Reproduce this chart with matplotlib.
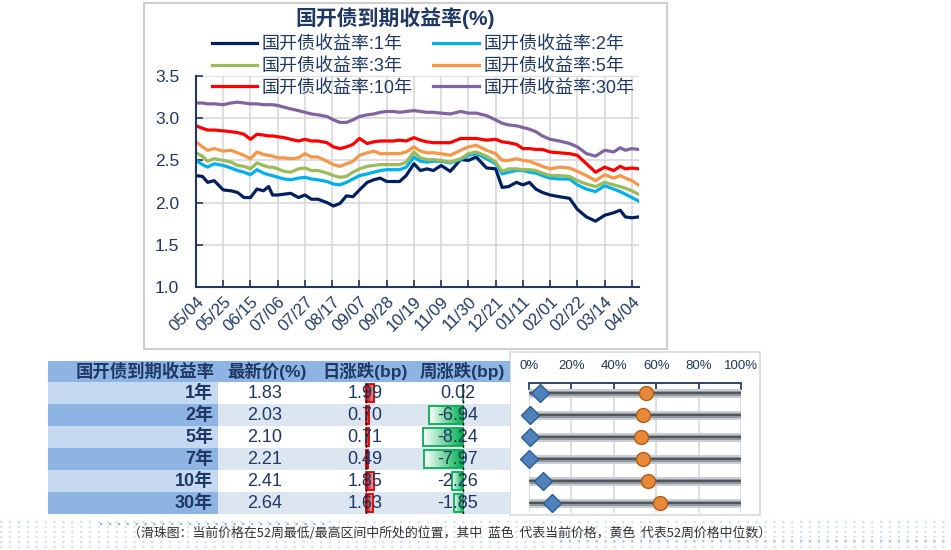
import numpy as np
import pandas as pd
import matplotlib
matplotlib.use("Agg")
import matplotlib.pyplot as plt
import matplotlib.dates as mdates
from matplotlib.colors import LinearSegmentedColormap
from matplotlib.patches import Rectangle

plt.rcParams['font.family'] = ['Liberation Sans', 'Noto Sans CJK SC', 'DejaVu Sans']
plt.rcParams['axes.unicode_minus'] = False

# ---------------------------------------------------------------
# Data
# ---------------------------------------------------------------
dates = pd.to_datetime([
    '2023-05-04', '2023-05-09', '2023-05-13', '2023-05-18', '2023-05-25', '2023-05-31',
    '2023-06-05', '2023-06-10', '2023-06-15', '2023-06-20', '2023-06-25', '2023-06-29',
    '2023-07-02', '2023-07-06', '2023-07-11', '2023-07-16', '2023-07-22', '2023-07-27',
    '2023-08-01', '2023-08-06', '2023-08-13', '2023-08-18', '2023-08-23', '2023-08-28',
    '2023-09-02', '2023-09-07', '2023-09-13', '2023-09-18', '2023-09-23', '2023-09-28',
    '2023-10-03', '2023-10-08', '2023-10-13', '2023-10-19', '2023-10-24', '2023-10-29',
    '2023-11-03', '2023-11-09', '2023-11-16', '2023-11-24', '2023-11-30', '2023-12-06',
    '2023-12-14', '2023-12-21', '2023-12-26', '2023-12-31', '2024-01-06', '2024-01-11',
    '2024-01-16', '2024-01-21', '2024-01-26', '2024-02-01', '2024-02-08', '2024-02-16',
    '2024-02-22', '2024-02-29', '2024-03-07', '2024-03-14', '2024-03-21', '2024-03-26',
    '2024-03-30', '2024-04-04', '2024-04-09'])

y1 = [2.32, 2.31, 2.24, 2.26, 2.15, 2.14, 2.12, 2.06, 2.06, 2.16,
      2.14, 2.19, 2.09, 2.09, 2.10, 2.11, 2.06, 2.09, 2.04, 2.04,
      2.00, 1.96, 1.99, 2.08, 2.07, 2.15, 2.24, 2.27, 2.29, 2.25,
      2.25, 2.25, 2.32, 2.46, 2.38, 2.40, 2.38, 2.44, 2.37, 2.51,
      2.50, 2.54, 2.41, 2.40, 2.18, 2.19, 2.24, 2.21, 2.24, 2.16,
      2.12, 2.09, 2.07, 2.05, 1.92, 1.83, 1.78, 1.85, 1.88, 1.91,
      1.83, 1.82, 1.83]
y2 = [2.50, 2.45, 2.42, 2.46, 2.44, 2.41, 2.38, 2.36, 2.33, 2.39,
      2.35, 2.33, 2.32, 2.30, 2.28, 2.27, 2.29, 2.30, 2.28, 2.27,
      2.25, 2.22, 2.21, 2.24, 2.28, 2.32, 2.34, 2.36, 2.38, 2.39,
      2.39, 2.39, 2.42, 2.54, 2.49, 2.48, 2.49, 2.49, 2.47, 2.51,
      2.56, 2.58, 2.52, 2.46, 2.34, 2.36, 2.38, 2.38, 2.36, 2.35,
      2.32, 2.29, 2.28, 2.28, 2.21, 2.16, 2.13, 2.20, 2.16, 2.13,
      2.10, 2.06, 2.02]
y3 = [2.59, 2.55, 2.49, 2.52, 2.50, 2.48, 2.44, 2.43, 2.40, 2.47,
      2.44, 2.42, 2.42, 2.40, 2.37, 2.36, 2.40, 2.41, 2.38, 2.38,
      2.35, 2.32, 2.30, 2.31, 2.36, 2.40, 2.43, 2.44, 2.45, 2.45,
      2.45, 2.45, 2.48, 2.60, 2.53, 2.51, 2.51, 2.50, 2.48, 2.52,
      2.58, 2.60, 2.55, 2.48, 2.37, 2.40, 2.40, 2.39, 2.39, 2.38,
      2.35, 2.32, 2.32, 2.31, 2.26, 2.22, 2.19, 2.24, 2.21, 2.19,
      2.17, 2.14, 2.10]
y5 = [2.72, 2.66, 2.62, 2.64, 2.61, 2.62, 2.59, 2.56, 2.52, 2.60,
      2.57, 2.56, 2.55, 2.53, 2.53, 2.52, 2.53, 2.58, 2.54, 2.54,
      2.49, 2.45, 2.43, 2.46, 2.49, 2.56, 2.59, 2.61, 2.58, 2.58,
      2.58, 2.58, 2.60, 2.66, 2.61, 2.59, 2.59, 2.58, 2.56, 2.62,
      2.66, 2.68, 2.62, 2.58, 2.50, 2.50, 2.52, 2.50, 2.49, 2.46,
      2.43, 2.40, 2.42, 2.41, 2.37, 2.32, 2.26, 2.33, 2.29, 2.32,
      2.29, 2.26, 2.21]
y10 = [2.91, 2.88, 2.86, 2.86, 2.85, 2.84, 2.83, 2.81, 2.75, 2.81,
       2.80, 2.79, 2.79, 2.78, 2.77, 2.75, 2.73, 2.75, 2.73, 2.73,
       2.71, 2.66, 2.64, 2.66, 2.69, 2.76, 2.70, 2.72, 2.73, 2.73,
       2.73, 2.74, 2.73, 2.77, 2.74, 2.72, 2.71, 2.71, 2.71, 2.76,
       2.76, 2.76, 2.74, 2.75, 2.72, 2.71, 2.69, 2.64, 2.64, 2.63,
       2.63, 2.60, 2.59, 2.58, 2.56, 2.46, 2.36, 2.42, 2.38, 2.43,
       2.40, 2.41, 2.40]
y30 = [3.18, 3.18, 3.17, 3.17, 3.16, 3.18, 3.19, 3.18, 3.17, 3.17,
       3.16, 3.16, 3.16, 3.15, 3.13, 3.11, 3.09, 3.07, 3.05, 3.04,
       3.02, 2.98, 2.95, 2.95, 2.98, 3.02, 3.04, 3.05, 3.07, 3.08,
       3.08, 3.07, 3.08, 3.09, 3.08, 3.07, 3.07, 3.06, 3.05, 3.08,
       3.06, 3.06, 3.03, 2.98, 2.94, 2.92, 2.91, 2.89, 2.87, 2.84,
       2.79, 2.75, 2.73, 2.70, 2.66, 2.58, 2.55, 2.62, 2.60, 2.65,
       2.62, 2.64, 2.63]

series_labels = ['国开债收益率:1年', '国开债收益率:2年', '国开债收益率:3年',
                 '国开债收益率:5年', '国开债收益率:10年', '国开债收益率:30年']
series_colors = ['#002060', '#00B0F0', '#9BBB59', '#F79646', '#FF0000', '#8064A2']

tenors = ['1年', '2年', '5年', '7年', '10年', '30年']
latest = [1.83, 2.03, 2.10, 2.21, 2.41, 2.64]
day_chg = [1.99, 0.70, 0.71, 0.49, 1.85, 1.63]
week_chg = [0.02, -6.94, -8.24, -7.97, -2.26, -1.85]
pos_current = [0.05, 0.005, 0.005, 0.0, 0.065, 0.11]
pos_median = [0.55, 0.54, 0.53, 0.54, 0.56, 0.62]

footnote = '（滑珠图：当前价格在52周最低/最高区间中所处的位置，其中  蓝色  代表当前价格，黄色  代表52周价格中位数）'

NAVY = '#1F3864'
GRID = '#D9D9D9'
W, H = 951, 550

fig = plt.figure(figsize=(W / 100, H / 100), dpi=100)

# background canvas in pixel coordinates
bg = fig.add_axes([0, 0, 1, 1], zorder=0)
bg.set_xlim(0, W)
bg.set_ylim(H, 0)
bg.axis('off')

# decorative dotted band at the bottom
for yy in range(522, 550, 5):
    bg.plot([0, W], [yy, yy], color='#D5E3F0', lw=1.6, ls=(0, (1, 3)))
bg.plot([100, 330], [524, 524], color='#8DB9DA', lw=1.6, ls=(0, (1, 3)))
bg.plot([560, 951], [541, 541], color='#A9CBE3', lw=1.6, ls=(0, (1, 3)))

# panels
bg.add_patch(Rectangle((144, 3), 523, 346, fill=False, ec='#CFCFCF', lw=1.5))
bg.add_patch(Rectangle((510, 352), 250, 163, fill=False, ec='#D9D9D9', lw=1.2))

# ---------------------------------------------------------------
# Line chart
# ---------------------------------------------------------------
ax = fig.add_axes([196 / W, 1 - 287 / H, (639 - 196) / W, (287 - 76) / H], zorder=2)
ax.patch.set_alpha(0)
all_series = [y1, y2, y3, y5, y10, y30]
lines = []
for vals, lab, col in zip(all_series, series_labels, series_colors):
    ln, = ax.plot(dates, vals, color=col, lw=2.3, label=lab, solid_joinstyle='round')
    lines.append(ln)

tick_dates = pd.date_range('2023-05-04', '2024-04-04', freq='21D')
ax.set_xticks(tick_dates)
ax.xaxis.set_major_formatter(mdates.DateFormatter('%m/%d'))
ax.set_xlim(pd.Timestamp('2023-05-04'), pd.Timestamp('2024-04-09 12:00'))
ax.set_ylim(1.0, 3.5)
ax.set_yticks(np.arange(1.0, 3.51, 0.5))
ax.yaxis.set_major_formatter(matplotlib.ticker.FormatStrFormatter('%.1f'))
ax.grid(True, color=GRID, lw=1.2)
ax.set_axisbelow(True)
for s in ['top', 'right']:
    ax.spines[s].set_visible(False)
for s in ['left', 'bottom']:
    ax.spines[s].set_color(NAVY)
    ax.spines[s].set_linewidth(1.5)
ax.tick_params(axis='both', direction='in', length=5, width=1.2, color=NAVY, labelcolor=NAVY)
ax.tick_params(axis='y', pad=12, labelsize=12.5)
ax.tick_params(axis='x', pad=5, labelsize=12)
for lbl in ax.get_xticklabels():
    lbl.set_rotation(45)
    lbl.set_ha('right')
    lbl.set_va('top')
    lbl.set_rotation_mode('anchor')

order = [0, 2, 4, 1, 3, 5]
ax.legend([lines[i] for i in order], [series_labels[i] for i in order], ncol=2,
          loc='upper left', bbox_to_anchor=(212 / W, 1 - 36 / H), bbox_transform=fig.transFigure,
          frameon=False, borderpad=0, borderaxespad=0, handlelength=2.5, handletextpad=0.25,
          columnspacing=1.15, labelspacing=0.27, fontsize=13, labelcolor=NAVY)

fig.text(395 / W, 1 - 18 / H, '国开债到期收益率(%)', ha='center', va='center',
         fontsize=15, fontweight='bold', color=NAVY)

# ---------------------------------------------------------------
# Table
# ---------------------------------------------------------------
col_edges = [48, 218, 316, 414, 510]
head_top, head_bot = 361, 382
row_h = 22
bg.add_patch(Rectangle((col_edges[0], head_top), col_edges[-1] - col_edges[0],
                       head_bot - head_top, fc='#8DB4E2', ec='none'))
for i in range(len(tenors)):
    y0 = head_bot + i * row_h
    bg.add_patch(Rectangle((col_edges[0], y0), col_edges[1] - col_edges[0], row_h,
                           fc='#C5D9F1' if i % 2 == 0 else '#8DB4E2', ec='none'))
    bg.add_patch(Rectangle((col_edges[1], y0), col_edges[-1] - col_edges[1], row_h,
                           fc='white' if i % 2 == 0 else '#DCE6F1', ec='none'))

hy = (head_top + head_bot) / 2
bg.text(215, hy, '国开债到期收益率', ha='right', va='center', fontsize=12.5,
        fontweight='bold', color=NAVY)
bg.text(267, hy, '最新价(%)', ha='center', va='center', fontsize=12.5, fontweight='bold', color=NAVY)
bg.text(365, hy, '日涨跌(bp)', ha='center', va='center', fontsize=12.5, fontweight='bold', color=NAVY)
bg.text(462, hy, '周涨跌(bp)', ha='center', va='center', fontsize=12.5, fontweight='bold', color=NAVY)

# data bars
red_cmap = LinearSegmentedColormap.from_list('r', ['#C00000', '#F4B4B4'])
green_cmap = LinearSegmentedColormap.from_list('g', ['#00B050', '#FFFFFF'])


def data_bars(px_left, px_right, px_zero, px_per_bp, values, cmap, edge):
    bax = fig.add_axes([px_left / W, 1 - (head_bot + 6 * row_h) / H,
                        (px_right - px_left) / W, 6 * row_h / H], zorder=1)
    bax.axis('off')
    grad = np.linspace(0, 1, 64).reshape(1, -1)
    hh = 0.4
    for i, v in enumerate(values):
        if v >= 0:
            bax.imshow(grad, extent=[0, v, i + hh, i - hh], cmap=cmap, aspect='auto')
        else:
            bax.imshow(grad[:, ::-1], extent=[v, 0, i + hh, i - hh], cmap=cmap, aspect='auto')
        bax.add_patch(Rectangle((min(0, v), i - hh), abs(v), 2 * hh, fill=False, ec=edge, lw=1.3))
    bax.axvline(0, color='black', lw=1, ls=(0, (2, 2)))
    bax.set_xlim(-(px_zero - px_left) / px_per_bp, (px_right - px_zero) / px_per_bp)
    bax.set_ylim(5.5, -0.5)
    return bax


data_bars(316, 414, 366, 4.2, day_chg, red_cmap, '#E00000')
data_bars(414, 510, 463, 4.85, week_chg, green_cmap, '#00B050')

for i, t in enumerate(tenors):
    yc = head_bot + i * row_h + row_h / 2
    fig.text(213 / W, 1 - yc / H, t, ha='right', va='center', fontsize=13,
             fontweight='bold', color=NAVY, zorder=5)
    fig.text(265 / W, 1 - yc / H, f'{latest[i]:.2f}', ha='center', va='center',
             fontsize=13, color=NAVY, zorder=5)
    fig.text(365 / W, 1 - yc / H, f'{day_chg[i]:.2f}', ha='center', va='center',
             fontsize=13, color=NAVY, zorder=5)
    fig.text(458 / W, 1 - yc / H, f'{week_chg[i]:.2f}', ha='center', va='center',
             fontsize=13, color=NAVY, zorder=5)

# ---------------------------------------------------------------
# Bead chart
# ---------------------------------------------------------------
bead = fig.add_axes([529 / W, 1 - 513 / H, 212 / W, 130 / H], zorder=2)
bead.patch.set_alpha(0)
rows = np.arange(len(tenors))
bead.set_xlim(0, 1)
bead.set_ylim(5.45, -0.455)
bead.xaxis.tick_top()
bead.set_xticks(np.linspace(0, 1, 6))
bead.set_xticklabels(['0%', '20%', '40%', '60%', '80%', '100%'])
bead.set_yticks([])
bead.tick_params(axis='x', direction='in', length=5, width=1.2, color=NAVY,
                 labelcolor=NAVY, labelsize=9.5, pad=8)
bead.grid(True, axis='x', color=GRID, lw=1.2)
bead.set_axisbelow(True)
for s in ['bottom', 'left', 'right']:
    bead.spines[s].set_visible(False)
bead.spines['top'].set_color(NAVY)
bead.spines['top'].set_linewidth(1.3)

bead.hlines(rows, 0, 1, color='#C9CED4', lw=6.5, zorder=2)
bead.hlines(rows, 0, 1, color='#90969C', lw=3.6, zorder=2)
bead.hlines(rows, 0, 1, color='#50555A', lw=1.4, zorder=2)
bead.plot(pos_current, rows, 'D', ms=9, mfc='#4F81BD', mec='#2C5C94', mew=1, clip_on=False, zorder=4)
bead.plot(pos_median, rows, 'o', ms=10, mfc='#E8893A', mec='#B35A14', mew=1, clip_on=False, zorder=4)

# footnote
bg.text(128, 533, footnote, ha='left', va='center', fontsize=9.3, color='#333333',
        family=['Noto Sans CJK SC', 'DejaVu Sans'])

fig.savefig('out.png', dpi=100)
